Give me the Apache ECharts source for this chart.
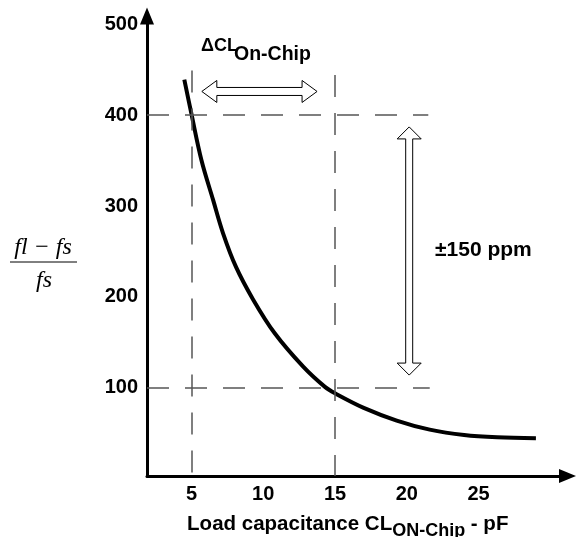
<!DOCTYPE html>
<html>
<head>
<meta charset="utf-8">
<script src="https://cdn.jsdelivr.net/npm/echarts@6/dist/echarts.min.js"></script>
<style>
html,body{margin:0;padding:0;background:#fff;}
#chart{width:576px;height:537px;}
</style>
</head>
<body>
<div id="chart"></div>
<script>
// ---- data ----
var capacitancePF = [4.5, 5.0, 5.7, 6.5, 7.2, 8.1, 9.3, 10.8, 12.8, 14.3, 15.0, 17.0, 19.3, 21.6, 24.0, 26.3, 29.0];
var pullingPPM    = [439, 401, 350, 307, 270, 233, 197, 160, 123, 101, 94, 78, 64, 54, 48, 45.5, 44.5];
var xTickValues = [5, 10, 15, 20, 25];
var yTickValues = [100, 200, 300, 400, 500];
// dashed guide lines
var guideXValues = [5, 15];
var guideXTop    = [449, 444];
var guideYValues = [400, 100];
var guideYEnd    = [21.5, 21.6];
// hollow double arrows: [x1, y1, x2, y2]
var arrowH = [[5.72, 426, 13.75, 426]];
var arrowV = [[20.17, 387, 20.17, 114]];
var xMin = 1.9, xMax = 31.2, yMin = 3, yMax = 509;

var FONT = "'Liberation Sans', Arial, sans-serif";
var SERIF = "'Liberation Serif', 'Times New Roman', serif";

var chart = echarts.init(document.getElementById('chart'), null, {renderer: 'canvas'});

function arrowRenderer(headLen, headHalf, shaftHalf) {
  return function (params, api) {
    var p1 = api.coord([api.value(0), api.value(1)]);
    var p2 = api.coord([api.value(2), api.value(3)]);
    var dx = p2[0] - p1[0], dy = p2[1] - p1[1];
    var len = Math.sqrt(dx * dx + dy * dy);
    var ux = dx / len, uy = dy / len;
    var nx = -uy, ny = ux;
    function pt(base, along, across) {
      return [base[0] + ux * along + nx * across, base[1] + uy * along + ny * across];
    }
    var pts = [
      p1,
      pt(p1, headLen, headHalf),
      pt(p1, headLen, shaftHalf),
      pt(p2, -headLen, shaftHalf),
      pt(p2, -headLen, headHalf),
      p2,
      pt(p2, -headLen, -headHalf),
      pt(p2, -headLen, -shaftHalf),
      pt(p1, headLen, -shaftHalf),
      pt(p1, headLen, -headHalf)
    ];
    return {
      type: 'polygon',
      shape: {points: pts},
      style: {fill: '#fff', stroke: '#000', lineWidth: 1}
    };
  };
}

var markLineData = [];
guideXValues.forEach(function (x, i) {
  markLineData.push([{coord: [x, guideXTop[i]]}, {coord: [x, yMin]}]);
});
guideYValues.forEach(function (y, i) {
  markLineData.push([{coord: [xMin, y]}, {coord: [guideYEnd[i], y]}]);
});

var option = {
  animation: false,
  backgroundColor: '#fff',
  grid: {left: 147, right: 8.5, top: 16, bottom: 61, containLabel: false, outerBoundsMode: 'none'},
  xAxis: {
    type: 'value', min: xMin, max: xMax,
    axisLine: {show: true, symbol: ['none', 'triangle'], symbolSize: [14, 17], lineStyle: {color: '#000', width: 3}},
    axisTick: {show: false},
    splitLine: {show: false},
    axisLabel: {customValues: xTickValues, color: '#000', fontSize: 20, fontWeight: 'bold', fontFamily: FONT, margin: 8},
    name: '{m|Load capacitance CL}{s|ON-Chip}{m| - pF}',
    nameLocation: 'middle',
    nameGap: 33,
    nameTextStyle: {
      padding: [0, 19, 0, 0],
      rich: {
        m: {fontSize: 20.5, fontWeight: 'bold', fontFamily: FONT, color: '#000'},
        s: {fontSize: 18, fontWeight: 'bold', fontFamily: FONT, color: '#000', padding: [13, 0, 0, 0]}
      }
    }
  },
  yAxis: {
    type: 'value', min: yMin, max: yMax,
    axisLine: {show: true, symbol: ['none', 'triangle'], symbolSize: [14, 17], lineStyle: {color: '#000', width: 3}},
    axisTick: {show: false},
    splitLine: {show: false},
    axisLabel: {customValues: yTickValues, color: '#000', fontSize: 20, fontWeight: 'bold', fontFamily: FONT, margin: 9}
  },
  graphic: [
    {type: 'text', x: 43, y: 248, style: {text: 'fl \u2212 fs', font: 'italic 24px ' + SERIF, fill: '#000', align: 'center', verticalAlign: 'middle'}},
    {type: 'line', shape: {x1: 10, y1: 262, x2: 77, y2: 262}, style: {stroke: '#000', lineWidth: 1}},
    {type: 'text', x: 44, y: 281, style: {text: 'fs', font: 'italic 24px ' + SERIF, fill: '#000', align: 'center', verticalAlign: 'middle'}},
    {type: 'text', x: 201, y: 46, style: {text: '\u0394CL', font: 'bold 18px ' + FONT, fill: '#000', align: 'left', verticalAlign: 'middle'}},
    {type: 'text', x: 234, y: 55, style: {text: 'On-Chip', font: 'bold 19.5px ' + FONT, fill: '#000', align: 'left', verticalAlign: 'middle'}},
    {type: 'text', x: 435, y: 250, style: {text: '\u00b1150 ppm', font: 'bold 21px ' + FONT, fill: '#000', align: 'left', verticalAlign: 'middle'}}
  ],
  series: [
    {
      type: 'line',
      data: capacitancePF.map(function (x, i) { return [x, pullingPPM[i]]; }),
      smooth: 0.35,
      showSymbol: false,
      lineStyle: {color: '#000', width: 4},
      silent: true,
      markLine: {
        silent: true,
        symbol: ['none', 'none'],
        label: {show: false},
        lineStyle: {color: '#555', width: 1.5, type: [22, 16]},
        data: markLineData
      },
      z: 3
    },
    {
      type: 'custom',
      data: arrowH,
      encode: {x: [0, 2], y: [1, 3]},
      renderItem: arrowRenderer(15, 11, 4),
      clip: false,
      silent: true
    },
    {
      type: 'custom',
      data: arrowV,
      encode: {x: [0, 2], y: [1, 3]},
      renderItem: arrowRenderer(12, 12, 3.5),
      clip: false,
      silent: true
    }
  ]
};
chart.setOption(option);
</script>
</body>
</html>
